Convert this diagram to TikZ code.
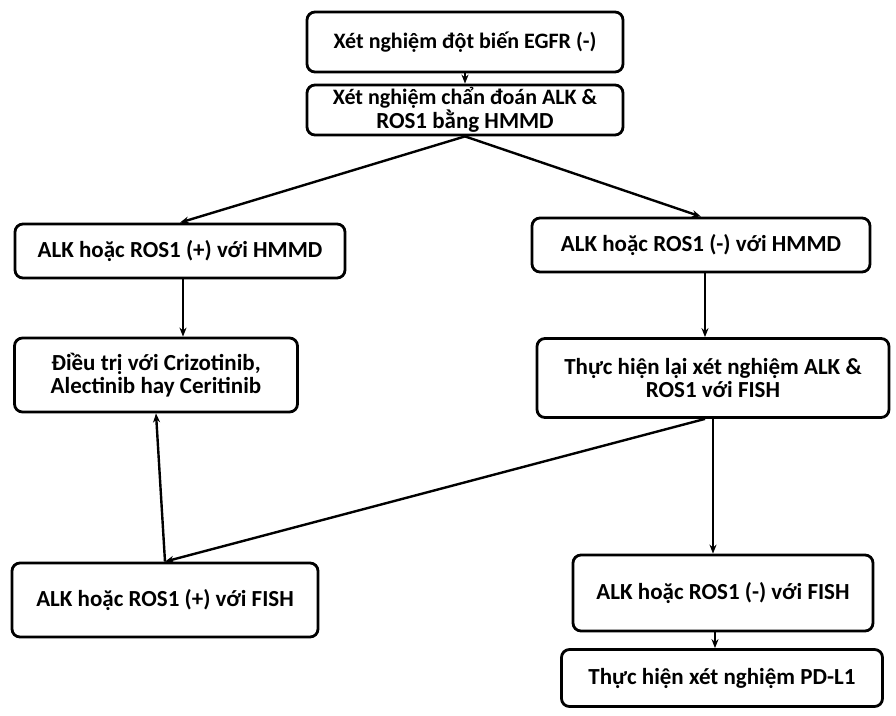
\documentclass[tikz,border=0pt]{standalone}
\usepackage{fontspec}
\setmainfont{Carlito}
\usetikzlibrary{arrows.meta}
\begin{document}
\begin{tikzpicture}[x=1pt,y=-1pt,
  box/.style={draw=black, line width=2.8pt, rounded corners=8pt, fill=white,
    align=center, inner sep=0pt,
    font=\bfseries\fontsize{23}{23.5}\selectfont},
  link/.style={draw=black, line width=2.4pt,
    -{Stealth[length=9pt,width=7pt]}}]
\useasboundingbox (0,0) rectangle (896,715);

% boxes
\node[box, minimum width=316pt, minimum height=60pt] (egfr) at (465,42)
  {\fontsize{22}{23}\selectfont Xét nghiệm đột biến EGFR (-)};
\node[box, minimum width=316pt, minimum height=50pt] (ihc) at (465,110)
  {\fontsize{22}{22}\selectfont Xét nghiệm chẩn đoán ALK \&\\ROS1 bằng HMMD};
\node[box, minimum width=330pt, minimum height=54pt] (ihcpos) at (180,251)
  {ALK hoặc ROS1 (+) với HMMD};
\node[box, minimum width=338pt, minimum height=54pt] (ihcneg) at (701,245)
  {ALK hoặc ROS1 (-) với HMMD};
\node[box, minimum width=283pt, minimum height=74pt] (treat) at (156,375)
  {Điều trị với Crizotinib,\\Alectinib hay Ceritinib};
\node[box, minimum width=352pt, minimum height=79pt] (fish) at (713,378)
  {Thực hiện lại xét nghiệm ALK \&\\ROS1 với FISH};
\node[box, minimum width=306pt, minimum height=74pt] (fishpos) at (165,600)
  {ALK hoặc ROS1 (+) với FISH};
\node[box, minimum width=300pt, minimum height=76pt] (fishneg) at (723,593)
  {ALK hoặc ROS1 (-) với FISH};
\node[box, minimum width=321pt, minimum height=57pt] (pdl1) at (722,678)
  {Thực hiện xét nghiệm PD-L1};

% connectors
\draw[link] (egfr.south) -- (ihc.north);
\draw[link] (ihc.south) -- (ihcpos.north);
\draw[link] (ihc.south) -- (ihcneg.north);
\draw[link] ([xshift=3pt]ihcpos.south) -- ([xshift=3pt]ihcpos.south |- treat.north);
\draw[link] ([xshift=4pt]ihcneg.south) -- ([xshift=4pt]ihcneg.south |- fish.north);
\draw[link] ([xshift=-8pt]fish.south) -- (fishpos.north);
\draw[link] (fishpos.north) -- (treat.south);
\draw[link] (fish.south) -- (fish.south |- fishneg.north);
\draw[link] ([xshift=-8pt]fishneg.south) -- ([xshift=-8pt]fishneg.south |- pdl1.north);
\end{tikzpicture}
\end{document}
